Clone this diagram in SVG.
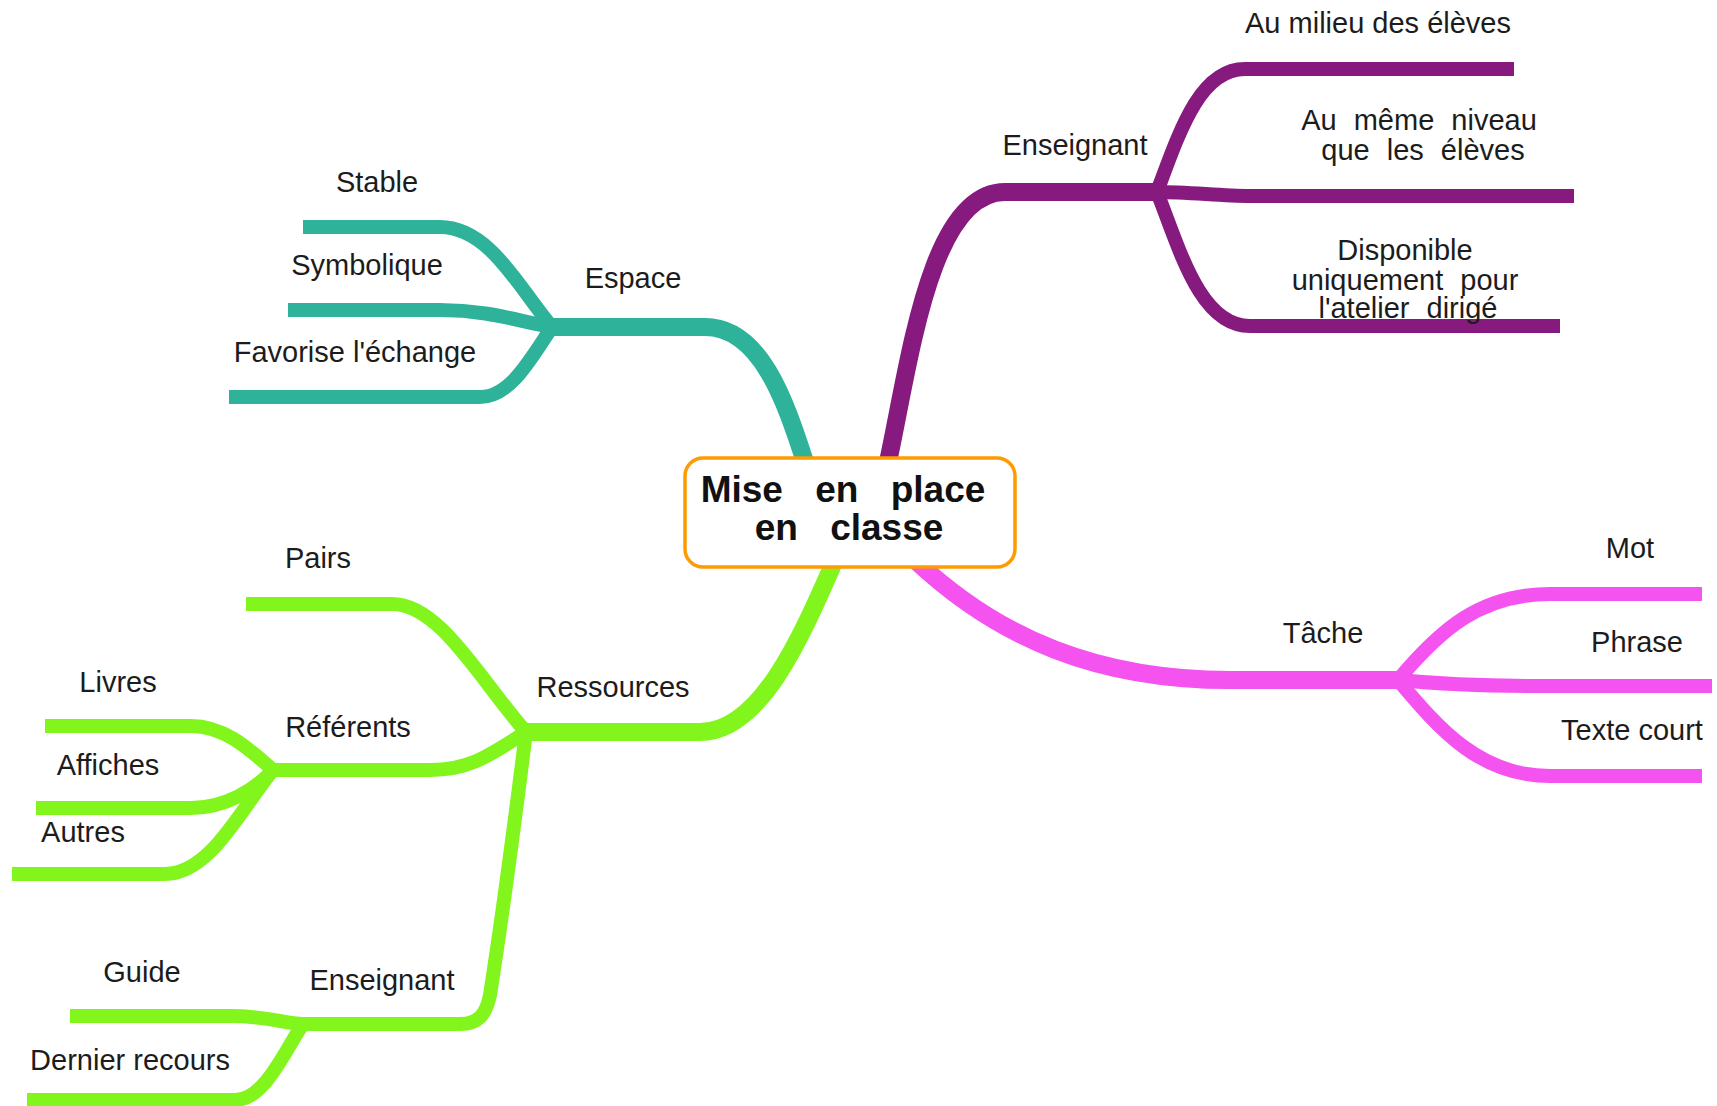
<svg xmlns="http://www.w3.org/2000/svg" width="1717" height="1106" viewBox="0 0 1717 1106">
<style>
.c{fill:none;stroke-linecap:butt;stroke-linejoin:round}
.m{stroke-width:18}
.l{stroke-width:14}
.teal{stroke:#2EB39A}
.pur{stroke:#861A7E}
.pink{stroke:#F553F0}
.grn{stroke:#82F51C}
text{font-family:"Liberation Sans",Arial,sans-serif;font-size:29px;fill:#1c1c1c;text-anchor:middle}
.t{font-size:37px;font-weight:bold;fill:#111;word-spacing:22px}
.j{word-spacing:9px}
</style>
<rect width="1717" height="1106" fill="#fff"/>
<g id="connectors">
<path class="c m teal" d="M552,327 H705 C760,327 785,400 805,462"/>
<path class="c l teal" d="M303,227 H440 C490,227 520,290 552,327"/>
<path class="c l teal" d="M288,310 H440 C490,310 520,322 552,327"/>
<path class="c l teal" d="M229,397 H480 C510,397 530,360 552,327"/>
<path class="c m pur" d="M888,462 C910,360 930,192 1005,192 H1157"/>
<path class="c l pur" d="M1157,192 C1180,130 1200,69 1245,69 H1514"/>
<path class="c l pur" d="M1157,192 C1190,192 1220,196 1250,196 H1574"/>
<path class="c l pur" d="M1157,192 C1180,250 1200,326 1250,326 H1560"/>
<path class="c m pink" d="M915,560 C1000,640 1100,680 1230,680 H1398"/>
<path class="c l pink" d="M1398,680 C1440,630 1480,594 1550,594 H1702"/>
<path class="c l pink" d="M1398,680 C1440,684 1480,686 1540,686 H1712"/>
<path class="c l pink" d="M1398,680 C1440,730 1480,776 1550,776 H1702"/>
<path class="c m grn" d="M835,560 C800,640 760,732 700,732 H526"/>
<path class="c l grn" d="M246,604 H392 C440,604 480,680 526,732"/>
<path class="c l grn" d="M526,732 C490,755 470,770 430,770 H273"/>
<path class="c l grn" d="M45,726 H191 C225,726 250,750 273,770"/>
<path class="c l grn" d="M36,808 H191 C225,808 255,790 273,770"/>
<path class="c l grn" d="M12,874 H165 C210,874 240,810 273,770"/>
<path class="c l grn" d="M526,732 C515,820 505,900 490,995 C486,1015 478,1024 460,1024 H303"/>
<path class="c l grn" d="M70,1016 H230 C270,1016 285,1024 303,1024"/>
<path class="c l grn" d="M27,1100 H235 C265,1100 285,1050 303,1024"/>
</g>
<g id="center">
<rect x="685" y="458" width="330" height="109" rx="18" fill="#fff" stroke="#FF9A00" stroke-width="3.5"/>
<text class="t" x="843" y="502">Mise en place</text>
<text class="t" x="849" y="540">en classe</text>
</g>
<g id="espace"><text x="633" y="288">Espace</text></g>
<g id="stable"><text x="377" y="192">Stable</text></g>
<g id="symbolique"><text x="367" y="275">Symbolique</text></g>
<g id="favorise"><text x="355" y="362">Favorise l'échange</text></g>
<g id="enseignant1"><text x="1075" y="155">Enseignant</text></g>
<g id="milieu"><text x="1378" y="33">Au milieu des élèves</text></g>
<g id="niveau"><text class="j" x="1419" y="130">Au même niveau</text><text class="j" x="1423" y="160">que les élèves</text></g>
<g id="disponible"><text class="j" x="1405" y="260">Disponible</text><text class="j" x="1405" y="290">uniquement pour</text><text class="j" x="1408" y="318">l'atelier dirigé</text></g>
<g id="tache"><text x="1323" y="643">Tâche</text></g>
<g id="mot"><text x="1630" y="558">Mot</text></g>
<g id="phrase"><text x="1637" y="652">Phrase</text></g>
<g id="texte"><text x="1632" y="740">Texte court</text></g>
<g id="ressources"><text x="613" y="697">Ressources</text></g>
<g id="pairs"><text x="318" y="568">Pairs</text></g>
<g id="referents"><text x="348" y="737">Référents</text></g>
<g id="livres"><text x="118" y="692">Livres</text></g>
<g id="affiches"><text x="108" y="775">Affiches</text></g>
<g id="autres"><text x="83" y="842">Autres</text></g>
<g id="enseignant2"><text x="382" y="990">Enseignant</text></g>
<g id="guide"><text x="142" y="982">Guide</text></g>
<g id="recours"><text x="130" y="1070">Dernier recours</text></g>
</svg>
